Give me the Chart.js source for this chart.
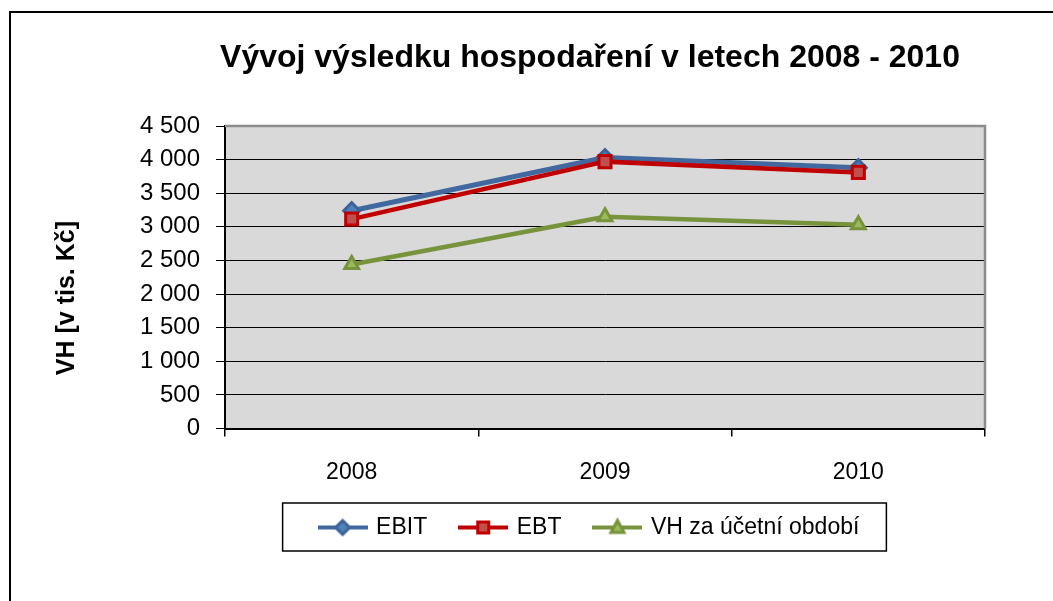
<!DOCTYPE html>
<html>
<head>
<meta charset="utf-8">
<title>Vývoj výsledku hospodaření</title>
<script src="https://cdn.jsdelivr.net/npm/chart.js@4.4.1/dist/chart.umd.min.js"></script>
<style>
    html, body { margin: 0; padding: 0; background: #fff; }
    #wrap { position: relative; width: 1053px; height: 601px; overflow: hidden; }
    #frame { position: absolute; left: 9px; top: 11px; width: 1200px; height: 800px; border: 2px solid #000; }
    #chart { position: absolute; left: 0; top: 0; }
</style>
</head>
<body>
<div id="wrap">
    <div id="frame"></div>
    <canvas id="chart" width="1160" height="601"></canvas>
</div>
<script>

// Data
const years = ['2008', '2009', '2010'];
const ebit = [3240, 4030, 3880];
const ebt = [3115, 3970, 3810];
const vhObdobi = [2440, 3150, 3030];
const seriesNames = ['EBIT', 'EBT', 'VH za účetní období'];

// Fonts
const fontFamily = '"Liberation Sans", Arial, sans-serif';

// Styles
const seriesStyle = [
    { line: '#41699f', width: 5, fill: '#4f81bd', border: '#3c6496', point: 'rectRot', radius: 8 },
    { line: '#c00000', width: 4.5, fill: '#c0504d', border: '#c00000', point: 'rect', radius: 8.5 },
    { line: '#77933c', width: 4.5, fill: '#9bbb59', border: '#77933c', point: 'triangle', radius: 8 }
];

// Legend Icon (line + marker)
const makeLegendIcon = function (style) {

    const icon = document.createElement('canvas');
    icon.width = 50;
    icon.height = 22;
    const c = icon.getContext('2d');

    // Line
    c.strokeStyle = style.line;
    c.lineWidth = 4;
    c.beginPath();
    c.moveTo(0, 11);
    c.lineTo(50, 11);
    c.stroke();

    // Marker
    c.fillStyle = style.fill;
    c.strokeStyle = style.border;
    c.lineWidth = 3;
    c.beginPath();
    if (style.point === 'rectRot') {
        c.moveTo(25, 4); c.lineTo(32, 11); c.lineTo(25, 18); c.lineTo(18, 11);
    } else if (style.point === 'rect') {
        c.rect(19.5, 5.5, 11, 11);
    } else {
        c.moveTo(25, 4); c.lineTo(31.5, 16); c.lineTo(18.5, 16);
    }
    c.closePath();
    c.fill();
    c.stroke();

    return icon;

};

// Plot Area Plugin
const plotAreaPlugin = {
    id: 'plotArea',
    beforeDraw: function (chart) {
        const a = chart.chartArea;
        const ctx = chart.ctx;
        ctx.save();
        ctx.fillStyle = '#d9d9d9';
        ctx.fillRect(a.left, a.top, a.right - a.left, a.bottom - a.top);
        ctx.restore();
    },
    beforeDatasetsDraw: function (chart) {
        const a = chart.chartArea;
        const ctx = chart.ctx;
        ctx.save();
        ctx.strokeStyle = '#8c8c8c';
        ctx.lineWidth = 2.5;
        ctx.beginPath();
        ctx.moveTo(a.left, a.top);
        ctx.lineTo(a.right, a.top);
        ctx.lineTo(a.right, a.bottom);
        ctx.stroke();
        ctx.restore();
    },
    afterDraw: function (chart) {

        // Legend Border
        const boxes = chart.legend.legendHitBoxes;
        if (!boxes || !boxes.length) { return; }
        const first = boxes[0];
        const last = boxes[boxes.length - 1];
        const midY = first.top + first.height / 2;
        const ctx = chart.ctx;
        ctx.save();
        ctx.strokeStyle = '#000';
        ctx.lineWidth = 1.5;
        ctx.strokeRect(first.left - 38, midY - 24.5, (last.left + last.width + 27) - (first.left - 38), 48);
        ctx.restore();

    }
};

// Datasets
const datasets = [ebit, ebt, vhObdobi].map(function (values, i) {
    const s = seriesStyle[i];
    return {
        label: seriesNames[i],
        data: values,
        borderColor: s.line,
        borderWidth: s.width,
        pointStyle: s.point,
        pointRadius: s.radius,
        pointHoverRadius: s.radius,
        pointBackgroundColor: s.fill,
        pointBorderColor: s.border,
        pointBorderWidth: 3,
        fill: false,
        tension: 0,
        order: 3 - i
    };
});

// Create Chart
const ctx = document.getElementById('chart').getContext('2d');
const chart = new Chart(ctx, {
    type: 'line',
    data: { labels: years, datasets: datasets },
    plugins: [plotAreaPlugin],
    options: {
        responsive: false,
        animation: false,
        events: [],
        layout: { padding: { left: 40, right: 20, top: 10, bottom: 52 } },
        plugins: {
            tooltip: { enabled: false },
            title: {
                display: true,
                text: 'Vývoj výsledku hospodaření v letech 2008 - 2010',
                color: '#000',
                font: { family: fontFamily, size: 32, weight: 'bold' },
                padding: { top: 29, bottom: 48.6 }
            },
            legend: {
                display: true,
                position: 'bottom',
                labels: {
                    color: '#000',
                    font: { family: fontFamily, size: 23 },
                    usePointStyle: true,
                    pointStyleWidth: 44,
                    padding: 34,
                    generateLabels: function (chart) {
                        return chart.data.datasets.map(function (ds, i) {
                            return {
                                text: ds.label,
                                pointStyle: makeLegendIcon(seriesStyle[i]),
                                fillStyle: seriesStyle[i].fill,
                                strokeStyle: 'rgba(0,0,0,0)',
                                lineWidth: 0,
                                fontColor: '#000',
                                hidden: false,
                                datasetIndex: i
                            };
                        });
                    }
                }
            }
        },
        scales: {
            x: {
                offset: true,
                afterFit: function (scale) { scale.height = 53.5; },
                grid: { offset: true, drawOnChartArea: false, drawTicks: true, tickLength: 8, color: '#000', lineWidth: 1.5 },
                border: { display: true, color: '#000', width: 2 },
                ticks: { color: '#000', padding: 22, font: { family: fontFamily, size: 23 } }
            },
            y: {
                min: 0,
                max: 4500,
                afterFit: function (scale) { scale.width = 185; },
                grid: { color: '#000', lineWidth: 1, drawTicks: true, tickLength: 9 },
                border: { display: true, color: '#000', width: 2 },
                ticks: {
                    stepSize: 500,
                    color: '#000',
                    padding: 16,
                    font: { family: fontFamily, size: 24 },
                    callback: function (v) { return String(v).replace(/\B(?=(\d{3})+(?!\d))/g, ' '); }
                },
                title: {
                    display: true,
                    text: 'VH [v tis. Kč]\u00a0\u00a0\u00a0\u00a0\u00a0\u00a0',
                    color: '#000',
                    font: { family: fontFamily, size: 25, weight: 'bold' },
                    padding: { top: 12, bottom: 0 }
                }
            },
            y2: {
                position: 'right',
                display: true,
                afterFit: function (scale) { scale.width = 155; },
                grid: { display: false, drawOnChartArea: false },
                border: { display: false },
                ticks: { display: false }
            }
        }
    }
});

</script>
</body>
</html>
